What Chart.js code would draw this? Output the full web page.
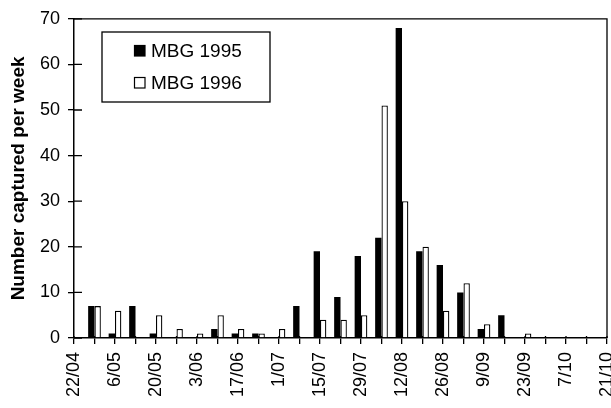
<!DOCTYPE html>
<html>
<head>
<meta charset="utf-8">
<script src="https://cdn.jsdelivr.net/npm/chart.js@4/dist/chart.umd.min.js"></script>
<style>
html,body{margin:0;padding:0;background:#fff;}
#wrap{width:611px;height:408px;position:relative;}
</style>
</head>
<body>
<div id="wrap"><canvas id="c" width="611" height="408"></canvas></div>
<script>
// Weekly categories (22/04 .. 21/10)
const weeks = ['22/04','29/04','6/05','13/05','20/05','27/05','3/06','10/06','17/06','24/06','1/07','8/07','15/07','22/07','29/07','5/08','12/08','19/08','26/08','2/09','9/09','16/09','23/09','30/09','7/10','14/10','21/10'];
// Labels shown on the x axis
const tickLabels = ['22/04','6/05','20/05','3/06','17/06','1/07','15/07','29/07','12/08','26/08','9/09','23/09','7/10','21/10'];
const mbg1995 = [0,7,1,7,1,0,0,2,1,1,0,7,19,9,18,22,68,19,16,10,2,5,0,0,0,0,0];
const mbg1996 = [0,7,6,0,5,2,1,5,2,1,2,0,4,4,5,51,30,20,6,12,3,0,1,0,0,0,0];
const yTicks = [0,10,20,30,40,50,60,70];

const FONT = "'Liberation Sans', Arial, sans-serif";

const framePlugin = {
  id: 'frame',
  afterDraw(chart) {
    const ctx = chart.ctx;
    const a = chart.chartArea;
    const xs = chart.scales.x, ys = chart.scales.y;
    ctx.save();
    ctx.strokeStyle = '#000';
    ctx.lineWidth = 1.3;
    // top and right frame
    ctx.beginPath();
    ctx.moveTo(a.left, a.top); ctx.lineTo(a.right, a.top); ctx.lineTo(a.right, a.bottom);
    ctx.stroke();
    // inner parts of y ticks
    ctx.beginPath();
    yTicks.forEach(v => { const y = ys.getPixelForValue(v); ctx.moveTo(a.left, y); ctx.lineTo(a.left + 8, y); });
    // inner parts of x ticks
    weeks.forEach((w, i) => { const x = xs.getPixelForValue(i); ctx.moveTo(x, a.bottom); ctx.lineTo(x, a.bottom - 2); });
    ctx.stroke();
    // legend
    const L = 102, T = 32, R = 270, B = 102;
    ctx.lineWidth = 1.3;
    ctx.fillStyle = '#fff';
    ctx.fillRect(L, T, R - L, B - T);
    ctx.strokeRect(L, T, R - L, B - T);
    const ds = chart.data.datasets;
    const rows = [45, 77];
    ds.forEach((d, i) => {
      const y = rows[i];
      ctx.fillStyle = d.backgroundColor;
      ctx.fillRect(134, y, 11, 11);
      ctx.strokeStyle = '#000';
      ctx.lineWidth = 1.2;
      ctx.strokeRect(134.5, y + 0.5, 10.5, 10.5);
      ctx.fillStyle = '#000';
      ctx.font = '19px ' + FONT;
      ctx.textBaseline = 'alphabetic';
      ctx.textAlign = 'left';
      ctx.fillText(d.label, 151, y + 12);
    });
    ctx.restore();
  }
};

new Chart(document.getElementById('c'), {
  type: 'bar',
  data: {
    labels: weeks,
    datasets: [
      { label: 'MBG 1995', data: mbg1995, backgroundColor: '#000', borderColor: '#000', borderWidth: 0 },
      { label: 'MBG 1996', data: mbg1996, backgroundColor: '#fff', borderColor: '#000', borderWidth: 1.3 }
    ]
  },
  options: {
    responsive: false,
    animation: false,
    devicePixelRatio: 1,
    layout: { padding: { top: 16, right: 4, left: 0, bottom: 0 } },
    datasets: { bar: { categoryPercentage: 0.62, barPercentage: 1.0 } },
    plugins: { legend: { display: false }, tooltip: { enabled: false } },
    scales: {
      x: {
        type: 'category',
        offset: false,
        grid: { offset: false, drawOnChartArea: false, drawTicks: true, tickLength: 6, color: '#000', lineWidth: 1.3 },
        border: { color: '#000', width: 1.5 },
        ticks: {
          autoSkip: false, maxRotation: 90, minRotation: 90, padding: 8,
          color: '#000', font: { family: FONT, size: 18 },
          callback: function(v, i) { const l = weeks[i]; return tickLabels.includes(l) ? l : ''; }
        },
        afterFit(s) { s.height = 70; s.paddingLeft = 0; s.paddingRight = 0; }
      },
      y: {
        min: 0, max: 70,
        afterBuildTicks(s) { s.ticks = yTicks.map(v => ({ value: v })); },
        grid: { drawOnChartArea: false, drawTicks: true, tickLength: 6, color: '#000', lineWidth: 1.3 },
        border: { color: '#000', width: 1.5 },
        ticks: { padding: 8, color: '#000', font: { family: FONT, size: 18 } },
        title: { display: true, text: 'Number captured per week', color: '#000', font: { family: FONT, size: 19, weight: 'bold' }, padding: { top: 7, bottom: 0 } },
        afterFit(s) { s.width = 74; }
      }
    }
  },
  plugins: [framePlugin]
});
</script>
</body>
</html>
